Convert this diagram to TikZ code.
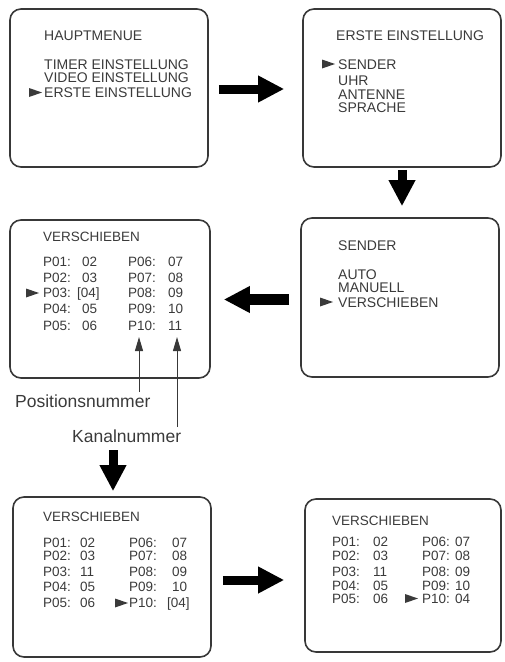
\documentclass[tikz,border=0pt]{standalone}
\usepackage{fontspec}
\setmainfont{Liberation Sans}
\usetikzlibrary{arrows.meta}
\definecolor{boxc}{HTML}{383838}
\definecolor{txtc}{HTML}{3A3A3A}
\begin{document}
\begin{tikzpicture}[x=1pt,y=-1pt,
  scr/.style 2 args={draw=boxc, line width=1.6pt, rounded corners=11pt, minimum width=#1pt, minimum height=#2pt, inner sep=0pt},
  txt/.style={anchor=base west, inner sep=0pt, text=txtc, font=\fontsize{14}{14}\selectfont},
  row/.style={anchor=base west, inner sep=0pt, text=txtc, font=\fontsize{13.5}{13.5}\selectfont},
  lbl/.style={anchor=base west, inner sep=0pt, text=txtc, font=\fontsize{17.5}{17.5}\selectfont},
  bigarrow/.style={draw=black, line width=9pt, -{Triangle[length=26pt, width=25pt]}},
  ptr/.style={draw=boxc, line width=1pt, -{Triangle[length=14pt, width=8pt]}},
  pics/selmark/.style={code={\fill[txtc] (0,-4.5) -- (13,0) -- (0,4.5) -- cycle;}}
]
\useasboundingbox (0,0) rectangle (504,662);

% screens
\node[scr={198}{158}] (b1) at (109,88) {};
\node[scr={198}{158}] (b2) at (402,88) {};
\node[scr={200}{158}] (b3) at (110,299) {};
\node[scr={198}{159}] (b4) at (400,297.5) {};
\node[scr={198}{160}] (b5) at (112,577) {};
\node[scr={196}{153}] (b6) at (403,575.5) {};

% box 1
\node[txt] (h1) at (44,40) {HAUPTMENUE};
\node[txt] (h2) at (44,69.5) {TIMER EINSTELLUNG};
\node[txt] (h3) at (44,82) {VIDEO EINSTELLUNG};
\node[txt] (h4) at (44,97.5) {ERSTE EINSTELLUNG};
\pic at (29,92.5) {selmark};

% box 2
\node[txt] (e1) at (336,40) {ERSTE EINSTELLUNG};
\node[txt] (e2) at (338,69) {SENDER};
\node[txt] (e3) at (338,85) {UHR};
\node[txt] (e4) at (338,99.5) {ANTENNE};
\node[txt] (e5) at (338,112) {SPRACHE};
\pic at (322,64) {selmark};

% box 4
\node[txt] (s1) at (338,250) {SENDER};
\node[txt] (s2) at (338,279.5) {AUTO};
\node[txt] (s3) at (338,292) {MANUELL};
\node[txt] (s4) at (338,307) {VERSCHIEBEN};
\pic at (320,302) {selmark};

% box 3
\node[row] (v0) at (43,241) {VERSCHIEBEN};
\node[row] (v1a) at (43,266) {P01:};   \node[row] (v1b) at (82,266) {02};
\node[row] (v2a) at (43,282.5) {P02:}; \node[row] (v2b) at (82,282.5) {03};
\node[row] (v3a) at (43,297.5) {P03:}; \node[row] (v3b) at (77,297.5) {[04]};
\node[row] (v4a) at (43,313.5) {P04:}; \node[row] (v4b) at (82,313.5) {05};
\node[row] (v5a) at (43,330.5) {P05:}; \node[row] (v5b) at (82,330.5) {06};
\node[row] (v6a) at (128,266) {P06:};   \node[row] (v6b) at (168,266) {07};
\node[row] (v7a) at (128,282.5) {P07:}; \node[row] (v7b) at (168,282.5) {08};
\node[row] (v8a) at (128,297.5) {P08:}; \node[row] (v8b) at (168,297.5) {09};
\node[row] (v9a) at (128,313.5) {P09:}; \node[row] (v9b) at (168,313.5) {10};
\node[row] (v10a) at (128,330.5) {P10:}; \node[row] (v10b) at (168,330.5) {11};
\pic at (26,293) {selmark};

% box 5
\node[row] (w0) at (43,521) {VERSCHIEBEN};
\node[row] (w1a) at (43,547.5) {P01:};   \node[row] (w1b) at (80,547.5) {02};
\node[row] (w2a) at (43,560) {P02:};   \node[row] (w2b) at (80,560) {03};
\node[row] (w3a) at (43,576.5) {P03:}; \node[row] (w3b) at (80,576.5) {11};
\node[row] (w4a) at (43,591.5) {P04:}; \node[row] (w4b) at (80,591.5) {05};
\node[row] (w5a) at (43,607.5) {P05:}; \node[row] (w5b) at (80,607.5) {06};
\node[row] (w6a) at (129,547.5) {P06:};   \node[row] (w6b) at (172,547.5) {07};
\node[row] (w7a) at (129,560) {P07:};   \node[row] (w7b) at (172,560) {08};
\node[row] (w8a) at (129,576.5) {P08:}; \node[row] (w8b) at (172,576.5) {09};
\node[row] (w9a) at (129,591.5) {P09:}; \node[row] (w9b) at (172,591.5) {10};
\node[row] (w10a) at (129,607.5) {P10:}; \node[row] (w10b) at (167,607.5) {[04]};
\pic at (115,603) {selmark};

% box 6
\node[row] (z0) at (332,525) {VERSCHIEBEN};
\node[row] (z1a) at (332,546.5) {P01:}; \node[row] (z1b) at (373,546.5) {02};
\node[row] (z2a) at (332,560.5) {P02:}; \node[row] (z2b) at (373,560.5) {03};
\node[row] (z3a) at (332,576.5) {P03:}; \node[row] (z3b) at (373,576.5) {11};
\node[row] (z4a) at (332,590) {P04:};   \node[row] (z4b) at (373,590) {05};
\node[row] (z5a) at (332,603) {P05:};   \node[row] (z5b) at (373,603) {06};
\node[row] (z6a) at (422,546.5) {P06:}; \node[row] (z6b) at (455,546.5) {07};
\node[row] (z7a) at (422,560.5) {P07:}; \node[row] (z7b) at (455,560.5) {08};
\node[row] (z8a) at (422,576.5) {P08:}; \node[row] (z8b) at (455,576.5) {09};
\node[row] (z9a) at (422,590) {P09:};   \node[row] (z9b) at (455,590) {10};
\node[row] (z10a) at (422,603) {P10:};  \node[row] (z10b) at (455,603) {04};
\pic at (405,598.5) {selmark};

% labels
\node[lbl] (pos) at (15,407) {Positionsnummer};
\node[lbl] (kan) at (72,442) {Kanalnummer};
\coordinate (p1) at (139,392);
\coordinate (p2) at (177,427);
\coordinate (t1) at (139,337);
\coordinate (t2) at (177,337);
\draw[ptr] (p1) -- (t1);
\draw[ptr] (p2) -- (t2);

% big arrows
\draw[bigarrow, shorten <=10pt, shorten >=18pt] ([yshift=-1pt]b1.east) -- ([yshift=-1pt]b2.west);
\draw[bigarrow, shorten <=2pt, shorten >=11pt] (b2.south) -- (b2.south |- b4.north);
\draw[bigarrow, line width=11pt, shorten <=11pt, shorten >=13pt] ([yshift=-2pt]b4.west) -- ([yshift=-2pt]b4.west -| b3.east);
\coordinate (a5) at (113,450);
\draw[bigarrow, shorten >=5pt] (a5) -- (a5 |- b5.north);
\draw[bigarrow, shorten <=11pt, shorten >=20pt] ([yshift=-3pt]b5.east) -- ([yshift=-3pt]b5.east -| b6.west);
\end{tikzpicture}
\end{document}
